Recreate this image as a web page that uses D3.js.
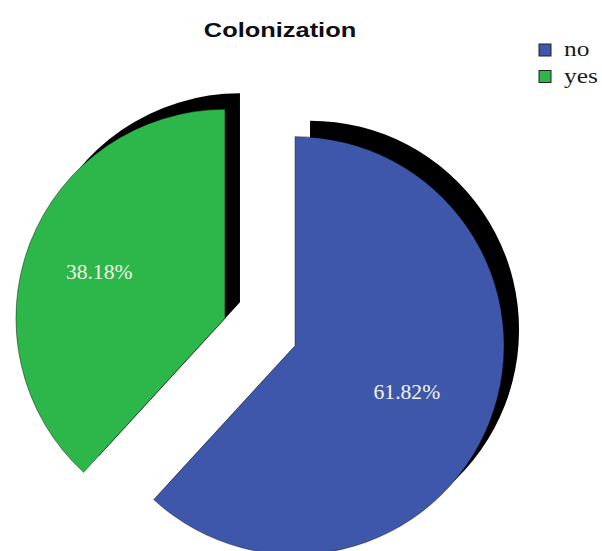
<!DOCTYPE html>
<meta charset="utf-8">
<style>
body {
  margin: 0px;
  background-color: white;
}
.title {
  font: bold 20px "Liberation Sans", Arial, sans-serif;
  fill: #0d0d14;
}
.legend text {
  font: 20px "Liberation Serif", "Times New Roman", serif;
  fill: #1a1a1a;
}
.label {
  font: 20px "Liberation Serif", "Times New Roman", serif;
  fill: #f4f4e6;
}
</style>
<svg width="602" height="551"></svg>
<script src="https://cdn.jsdelivr.net/npm/d3@7"></script>
<script>

// category counts (34 of 55 = 61.82%, 21 of 55 = 38.18%)
var categories = ["no", "yes"];
var counts = [34, 21];
var colors = ["#3e57ab", "#2db64a"];

var svg = d3.select("svg"),
    radius = 209,
    explode = 37.6,
    depth = {dx: 15, dy: -16},   // nearly parallel to the cut so no black shows on it
    cx = 260, cy = 332;

var total = d3.sum(counts);
var data = categories.map(function(c, i) {
  return {name: c, value: counts[i], color: colors[i]};
});

var pie = d3.pie()
    .sort(null)
    .value(function(d) { return d.value; });

var arc = d3.arc().innerRadius(0).outerRadius(radius);
var labelArc = d3.arc().innerRadius(radius * 0.61).outerRadius(radius * 0.61);

var arcs = pie(data);

// each slice pulled out along its middle angle
function offset(d) {
  var a = (d.startAngle + d.endAngle) / 2;
  return [Math.sin(a) * explode, -Math.cos(a) * explode];
}

var g = svg.append("g")
    .attr("transform", "translate(" + cx + "," + cy + ")");

// black depth behind the slices
g.selectAll(".shadow")
  .data(arcs)
  .enter().append("path")
    .attr("class", "shadow")
    .attr("transform", function(d) {
      var o = offset(d);
      return "translate(" + (o[0] + depth.dx) + "," + (o[1] + depth.dy) + ")";
    })
    .attr("d", arc)
    .style("fill", "#000");

var slice = g.selectAll(".slice")
  .data(arcs)
  .enter().append("g")
    .attr("class", "slice")
    .attr("transform", function(d) {
      var o = offset(d);
      return "translate(" + o[0] + "," + o[1] + ")";
    });

slice.append("path")
    .attr("d", arc)
    .style("fill", function(d) { return d.data.color; })
    .style("stroke", "#0a0a0a")
    .style("stroke-opacity", 0.55)
    .style("stroke-width", 0.8);

slice.append("text")
    .attr("class", "label")
    .attr("transform", function(d) {
      var c = labelArc.centroid(d);
      return "translate(" + (c[0] - 7) + "," + c[1] + ") scale(1.08,1)";
    })
    .attr("text-anchor", "middle")
    .attr("dy", "0.35em")
    .text(function(d) { return (d.data.value / total * 100).toFixed(2) + "%"; });

// title
svg.append("text")
    .attr("class", "title")
    .attr("transform", "translate(280,37) scale(1.27,1)")
    .attr("text-anchor", "middle")
    .text("Colonization");

// legend
var legend = svg.append("g")
    .attr("class", "legend")
    .attr("transform", "translate(539,44)");

var item = legend.selectAll("g")
  .data(data)
  .enter().append("g")
    .attr("transform", function(d, i) { return "translate(0," + i * 26.5 + ")"; });

item.append("rect")
    .attr("width", 12)
    .attr("height", 12)
    .style("fill", function(d) { return d.color; })
    .style("stroke", "#222")
    .style("stroke-width", 1);

item.append("text")
    .attr("transform", "translate(25,12) scale(1.27,1)")
    .text(function(d) { return d.name; });

</script>
